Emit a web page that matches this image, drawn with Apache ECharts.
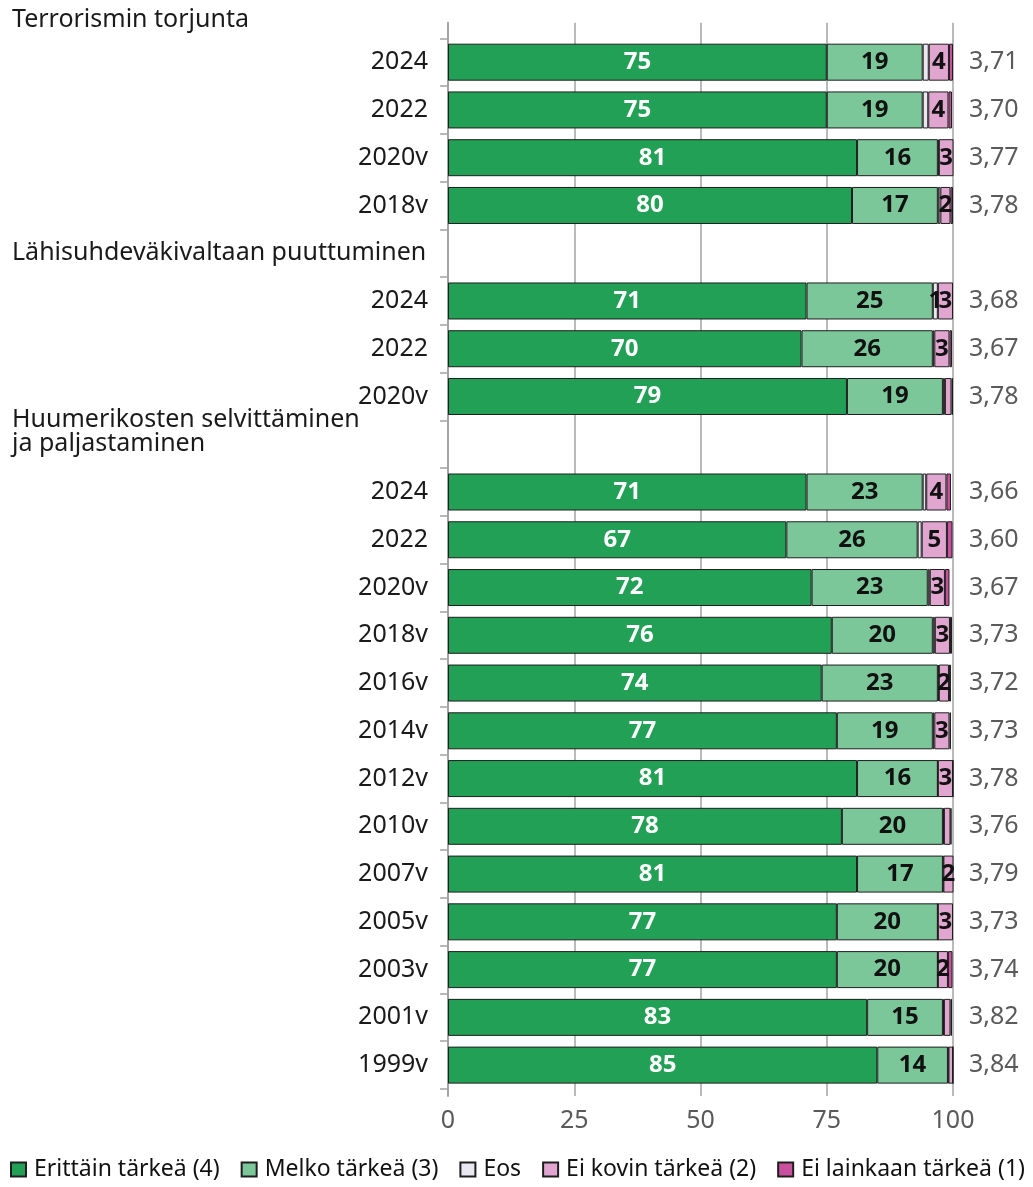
<!DOCTYPE html>
<html>
<head>
<meta charset="utf-8">
<script src="https://cdn.jsdelivr.net/npm/echarts@6/dist/echarts.min.js"></script>
<style>
  html, body { margin: 0; padding: 0; background: #ffffff; }
  #chart { width: 1033px; height: 1187px; }
</style>
</head>
<body>
<div id="chart"></div>
<script>
// Heading of the first group, drawn above the plot
const firstHeading = 'Terrorismin torjunta';

// Row labels, top to bottom. Later group headings are rows without bars.
const rowLabels = [
  '2024', '2022', '2020v', '2018v',
  'Lähisuhdeväkivaltaan puuttuminen', '2024', '2022', '2020v',
  'Huumerikosten selvittäminen\nja paljastaminen',
  '2024', '2022', '2020v', '2018v', '2016v', '2014v', '2012v', '2010v',
  '2007v', '2005v', '2003v', '2001v', '1999v'
];
const headingRows = [4, 8];

// Shares of answers, % (null = heading row)
const erittainTarkea = [75, 75, 81, 80, null, 71, 70, 79, null, 71, 67, 72, 76, 74, 77, 81, 78, 81, 77, 77, 83, 85];
const melkoTarkea    = [19, 19, 16, 17, null, 25, 26, 19, null, 23, 26, 23, 20, 23, 19, 16, 20, 17, 20, 20, 15, 14];
const eos            = [1.2, 1.1, 0.2, 0.5, null, 1, 0.3, 0.4, null, 0.7, 0.8, 0.4, 0.4, 0.2, 0.3, 0, 0.2, 0.1, 0, 0, 0.2, 0.1];
const eiKovinTarkea  = [4, 4, 3, 2, null, 3, 3, 1.3, null, 4, 5, 3, 3, 2, 3, 3, 1.3, 2, 3, 2, 1.3, 0.9];
const eiLainkaan     = [0.8, 0.7, 0.4, 0.5, null, 0.2, 0.5, 0.3, null, 0.9, 1.1, 0.9, 0.4, 0.4, 0.3, 0, 0.2, 0, 0.4, 0.9, 0.3, 0];

// Mean score on a 1–4 scale
const means = [3.71, 3.70, 3.77, 3.78, null, 3.68, 3.67, 3.78, null, 3.66, 3.60, 3.67, 3.73, 3.72, 3.73, 3.78, 3.76, 3.79, 3.73, 3.74, 3.82, 3.84];

const xTicks = [0, 25, 50, 75, 100];

const seriesNames = ['Erittäin tärkeä (4)', 'Melko tärkeä (3)', 'Eos', 'Ei kovin tärkeä (2)', 'Ei lainkaan tärkeä (1)'];
const seriesColors = ['#22a055', '#7cc79a', '#e9e7ef', '#e1a6d0', '#c9509e'];
const labelColors = ['#ffffff', '#111111', '#111111', '#111111', '#111111'];
const seriesData = [erittainTarkea, melkoTarkea, eos, eiKovinTarkea, eiLainkaan];

const FONT = 'Noto Sans';
const TEXT_SIZE = 25;

const chart = echarts.init(document.getElementById('chart'), null, { renderer: 'canvas' });

// Headings sit flush with the left edge; a two-line heading is lifted half a row
function headingText(text) {
  const lines = text.split('\n');
  const body = lines.map(l => '{h|' + l + '}').join('\n');
  return lines.length > 1 ? body + '\n{sp| }' : body;
}

const series = seriesNames.map((name, s) => ({
  name: name,
  type: 'bar',
  stack: 'total',
  xAxisIndex: 0,
  yAxisIndex: 0,
  barWidth: 37,
  itemStyle: { color: seriesColors[s], borderColor: '#1e1e1e', borderWidth: 1 },
  label: {
    show: true,
    position: 'inside',
    fontFamily: FONT,
    fontSize: 24,
    fontWeight: 'bold',
    color: labelColors[s],
    formatter: p => (p.value != null && p.value >= 1 && Number.isInteger(p.value)) ? String(p.value) : ''
  },
  emphasis: { disabled: true },
  data: seriesData[s]
}));

chart.setOption({
  animation: false,
  textStyle: { fontFamily: FONT },
  title: {
    text: firstHeading,
    left: 12,
    top: 7,
    padding: 0,
    textStyle: { fontFamily: FONT, fontSize: TEXT_SIZE, fontWeight: 'normal', color: '#1a1a1a' }
  },
  legend: {
    left: 10,
    bottom: 6,
    width: 1020,
    padding: 0,
    icon: 'rect',
    itemWidth: 15,
    itemHeight: 14,
    itemGap: 21,
    textStyle: { fontFamily: FONT, fontSize: 23, color: '#111111', padding: [0, 0, 0, 3] },
    data: seriesNames
  },
  grid: [
    { left: 448, right: 80, top: 38.3, bottom: 98 },
    { left: 448, right: 80, top: 22.7, bottom: 91 }
  ],
  xAxis: [
    { type: 'value', gridIndex: 0, min: 0, max: 100, interval: 25, show: false },
    {
      type: 'value', gridIndex: 1, min: xTicks[0], max: xTicks[xTicks.length - 1], interval: 25,
      axisLine: { show: false },
      axisTick: { show: false },
      splitLine: { show: true, lineStyle: { color: '#a3a3a3', width: 1.5 } },
      axisLabel: { fontFamily: FONT, fontSize: TEXT_SIZE, color: '#5a5a5a', margin: 12 }
    }
  ],
  yAxis: [
    {
      type: 'category',
      gridIndex: 0,
      inverse: true,
      data: rowLabels,
      axisLine: { show: false },
      axisTick: { show: true, length: 8, lineStyle: { color: '#a3a3a3', width: 1.5 } },
      axisLabel: {
        interval: 0,
        margin: 20,
        fontFamily: FONT,
        fontSize: TEXT_SIZE,
        color: '#1a1a1a',
        formatter: (value, idx) => headingRows.includes(idx) ? headingText(value) : value,
        rich: {
          h: { fontFamily: FONT, fontSize: TEXT_SIZE, color: '#1a1a1a', width: 416, align: 'left', lineHeight: 24 },
          sp: { fontSize: 10, lineHeight: 24 }
        }
      }
    },
    {
      type: 'category',
      gridIndex: 0,
      inverse: true,
      position: 'right',
      data: rowLabels,
      axisLine: { show: false },
      axisTick: { show: false },
      axisLabel: {
        interval: 0,
        margin: 16,
        fontFamily: FONT,
        fontSize: TEXT_SIZE,
        color: '#5a5a5a',
        formatter: (value, idx) => means[idx] == null ? '' : means[idx].toFixed(2).replace('.', ',')
      }
    },
    {
      type: 'value',
      gridIndex: 1,
      axisLine: { show: true, lineStyle: { color: '#a3a3a3', width: 2 } },
      axisTick: { show: false },
      axisLabel: { show: false },
      splitLine: { show: false }
    }
  ],
  series: series
});
</script>
</body>
</html>
